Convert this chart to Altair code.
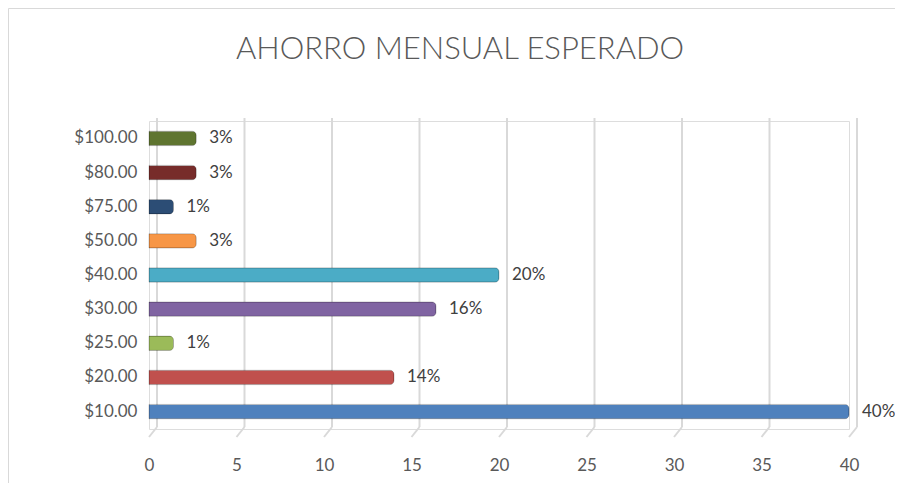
import altair as alt
import pandas as pd

categories = ["$10.00", "$20.00", "$25.00", "$30.00", "$40.00", "$50.00", "$75.00", "$80.00", "$100.00"]
values = [40, 14, 1.4, 16.4, 20, 2.7, 1.4, 2.7, 2.7]
labels = ["40%", "14%", "1%", "16%", "20%", "3%", "1%", "3%", "3%"]
colors = ["#4F81BD", "#C0504D", "#9BBB59", "#8064A2", "#4BACC6", "#F79646", "#2C4D75", "#772C2A", "#5F7530"]
ticks = [0, 5, 10, 15, 20, 25, 30, 35, 40]
title = "AHORRO MENSUAL ESPERADO"

df = pd.DataFrame({"cat": categories, "val": values, "lab": labels})
grid = pd.DataFrame({"t": ticks})

FONT = "Lato"
W, H = 700, 308
order = list(reversed(categories))

xs = alt.Scale(domain=[0, 40])
ys = alt.Scale(domain=order, paddingInner=0.58, paddingOuter=0.3)

xaxis = alt.Axis(values=ticks, grid=False, domain=False, ticks=False, title=None,
                 labelFont=FONT, labelFontSize=17, labelColor="#595959", labelPadding=28,
                 labelAlign="center")

frame = alt.Chart(pd.DataFrame({"a": [0]})).mark_rect(
    fill=None, stroke="#d9d9d9", strokeWidth=1
).encode(
    x=alt.value(-140.5), x2=alt.value(800), y=alt.value(-112.5), y2=alt.value(400)
)

title_mark = alt.Chart(pd.DataFrame({"t": [title]})).mark_text(
    font=FONT, fontSize=31, fontWeight=300, color="#595959", align="center", baseline="middle"
).encode(x=alt.value(311), y=alt.value(-71), text="t:N")

gridlines = alt.Chart(grid).mark_rule(color="#d9d9d9", strokeWidth=2, xOffset=8, x2Offset=8).encode(
    x=alt.X("t:Q", scale=xs, axis=xaxis),
    y=alt.value(-3), y2=alt.value(306)
)
stubs = alt.Chart(grid).mark_rule(color="#d9d9d9", strokeWidth=2, xOffset=8, x2Offset=0).encode(
    x=alt.X("t:Q", scale=xs, axis=xaxis),
    x2="t:Q",
    y=alt.value(306), y2=alt.value(316)
)

bars = alt.Chart(df).mark_bar(cornerRadiusEnd=4, stroke="#00000040", strokeWidth=0.8).encode(
    x=alt.X("val:Q", scale=xs, axis=xaxis),
    y=alt.Y("cat:N", scale=ys, sort=order, axis=alt.Axis(
        grid=False, domain=False, ticks=False, title=None,
        labelFont=FONT, labelFontSize=17, labelColor="#595959", labelPadding=12)),
    color=alt.Color("cat:N", scale=alt.Scale(domain=categories, range=colors), legend=None),
)

text = alt.Chart(df).mark_text(
    align="left", baseline="middle", dx=13, font=FONT, fontSize=17, color="#404040"
).encode(
    x=alt.X("val:Q", scale=xs, axis=xaxis),
    y=alt.Y("cat:N", scale=ys, sort=order),
    text="lab:N",
)

chart = alt.layer(frame, title_mark, gridlines, stubs, bars, text).properties(
    width=W, height=H,
    padding={"left": 141, "top": 113, "right": 46, "bottom": 54},
    autosize=alt.AutoSizeParams(type="none"),
).configure_view(stroke=None).configure(background="white")

chart.save("out.html", embed_options={"renderer": "svg", "actions": False})
